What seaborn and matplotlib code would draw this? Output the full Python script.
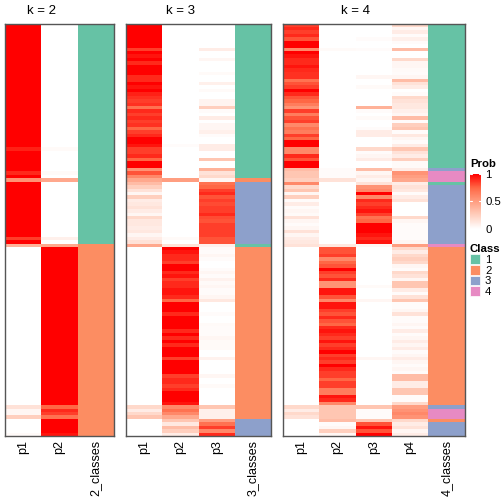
import numpy as np
import pandas as pd
import matplotlib
matplotlib.use("Agg")
import matplotlib.pyplot as plt
from matplotlib.colors import LinearSegmentedColormap, ListedColormap
from matplotlib.patches import Patch
import seaborn as sns

# --- membership probabilities, one value per sample (rows top to bottom) ---
k2_p1 = [1, 1, 1, 1, 1, 1, 1, 1, 1, 1, 1, 1, 1, 1, 1, 1, 1, 1, 1, 1,
         1, 1, 1, 1, 1, 1, 1, 1, 1, 1, 1, 1, 1, 1, 1, 1, 0.92, 1, 1, 1,
         1, 1, 1, 0.9, 1, 0.55, 1, 1, 1, 1, 1, 1, 1, 1, 1, 1, 1, 1, 1, 1,
         1, 1, 0.85, 1, 0.4, 0, 0, 0, 0, 0, 0, 0, 0, 0, 0, 0, 0, 0, 0, 0,
         0, 0, 0, 0, 0, 0, 0, 0, 0, 0, 0, 0, 0, 0, 0, 0, 0, 0, 0, 0,
         0, 0, 0, 0, 0, 0, 0, 0, 0, 0, 0, 0.15, 0.05, 0.05, 0.25, 0, 0, 0, 0, 0.03]
k2_p2 = [0, 0, 0, 0, 0, 0, 0, 0, 0, 0, 0, 0, 0, 0, 0, 0, 0, 0, 0, 0,
         0, 0, 0, 0, 0, 0, 0, 0, 0, 0, 0, 0, 0, 0, 0, 0, 0.03, 0, 0, 0,
         0, 0, 0, 0.03, 0, 0.45, 0, 0, 0, 0, 0, 0, 0, 0, 0, 0, 0, 0, 0, 0,
         0, 0, 0.08, 0, 0.45, 1, 1, 1, 1, 1, 1, 1, 1, 1, 1, 1, 1, 1, 1, 1,
         1, 1, 1, 1, 1, 1, 1, 1, 1, 1, 1, 1, 1, 1, 1, 1, 1, 1, 1, 1,
         1, 1, 1, 1, 1, 1, 1, 1, 1, 1, 1, 0.75, 0.9, 0.85, 0.7, 1, 1, 1, 1, 0.95]

k3_p1 = [1, 1, 1, 1, 1, 1, 1, 0.85, 1, 0.95, 1, 0.9, 1, 1, 1, 0.9, 0.9, 1, 0.95, 1,
         0.92, 0.88, 0.85, 0.88, 0.7, 0.9, 0.85, 0.9, 0.85, 0.88, 0.75, 0.85, 0.9, 1, 1, 0.95, 0.85, 0.85, 0.9, 0.75,
         1, 1, 0.55, 0.8, 0.6, 0.45, 0.35, 0.25, 0.15, 0.05, 0.25, 0.1, 0.12, 0.15, 0.1, 0.05, 0.2, 0.12, 0.12, 0.1,
         0.12, 0.05, 0.1, 0.15, 0.45, 0, 0, 0, 0, 0, 0, 0, 0, 0, 0, 0, 0, 0, 0, 0,
         0, 0, 0, 0, 0, 0, 0, 0, 0, 0, 0, 0, 0, 0, 0, 0, 0, 0, 0, 0,
         0, 0, 0, 0, 0, 0, 0, 0, 0, 0, 0, 0.2, 0.1, 0.2, 0.3, 0, 0, 0, 0, 0]
k3_p2 = [0, 0, 0, 0, 0, 0, 0, 0, 0, 0, 0, 0, 0, 0, 0, 0, 0, 0, 0, 0,
         0, 0, 0, 0, 0, 0, 0, 0, 0, 0, 0, 0, 0, 0, 0, 0.02, 0, 0, 0, 0,
         0, 0, 0, 0, 0, 0.5, 0, 0, 0, 0, 0, 0, 0, 0, 0, 0, 0, 0, 0, 0,
         0, 0, 0.03, 0, 0.15, 1, 0.95, 0.9, 0.9, 0.85, 1, 1, 0.9, 0.95, 0.85, 0.9, 0.9, 0.95, 0.95, 0.9,
         0.75, 1, 1, 1, 0.9, 1, 1, 1, 1, 0.9, 1, 0.9, 1, 0.9, 1, 1, 1, 0.85, 1, 1,
         1, 1, 0.85, 0.9, 0.9, 0.85, 0.9, 1, 1, 1, 0.95, 0.6, 0.7, 0.6, 0.45, 0.3, 0.12, 0.35, 0.25, 0.1]
k3_p3 = [0, 0, 0, 0, 0, 0, 0, 0.1, 0, 0, 0.05, 0, 0, 0, 0.03, 0, 0, 0.08, 0, 0.03,
         0, 0, 0.06, 0.06, 0.25, 0.02, 0, 0.1, 0, 0.05, 0.05, 0.08, 0.02, 0, 0, 0.1, 0.1, 0, 0, 0.3,
         0, 0, 0.4, 0.15, 0.2, 0.05, 0.7, 0.75, 0.85, 0.9, 0.8, 0.85, 0.82, 0.85, 0.85, 0.9, 0.82, 0.8, 0.85, 0.85,
         0.85, 0.85, 0.8, 0.8, 0.08, 0.03, 0.02, 0.05, 0.02, 0, 0, 0.02, 0.05, 0.02, 0.07, 0.03, 0.05, 0.02, 0.02, 0.05,
         0.12, 0, 0, 0, 0.02, 0, 0, 0.03, 0.02, 0.02, 0.02, 0.05, 0.03, 0.03, 0.03, 0, 0, 0.07, 0, 0,
         0, 0, 0.05, 0, 0, 0.03, 0, 0, 0, 0, 0, 0.3, 0.08, 0.08, 0.08, 0.5, 0.7, 0.85, 0.6, 0.9]

k4_p1 = [0.85, 0.9, 0.85, 0.9, 0.8, 1, 1, 0.6, 1, 0.95, 0.9, 0.9, 0.95, 0.9, 0.88, 0.88, 0.7, 0.8, 0.85, 1,
         0.9, 0.8, 0.75, 0.65, 0.55, 0.85, 0.65, 0.8, 0.85, 0.6, 0.7, 0.65, 0.85, 0.75, 1, 1, 0.6, 0.6, 0.9, 0.8,
         1, 1, 0.35, 0.3, 0.3, 0.25, 0.6, 0.2, 0.3, 0.05, 0.25, 0.02, 0.1, 0.02, 0.05, 0.03, 0.15, 0.05, 0.02, 0.05,
         0.15, 0.05, 0.1, 0.12, 0.15, 0, 0, 0, 0, 0, 0, 0, 0, 0, 0, 0, 0, 0, 0, 0,
         0, 0, 0, 0, 0, 0, 0, 0, 0, 0, 0, 0, 0, 0, 0, 0, 0, 0, 0, 0,
         0, 0, 0, 0, 0, 0, 0, 0, 0, 0, 0, 0.2, 0.1, 0.2, 0.15, 0, 0, 0, 0, 0]
k4_p2 = [0, 0, 0, 0, 0, 0, 0, 0.03, 0, 0, 0, 0, 0, 0, 0, 0, 0, 0, 0, 0,
         0, 0, 0, 0, 0, 0, 0, 0, 0, 0, 0, 0, 0, 0, 0, 0, 0, 0, 0, 0,
         0, 0, 0.02, 0.02, 0.02, 0.15, 0, 0, 0, 0, 0, 0, 0, 0, 0, 0, 0, 0, 0, 0,
         0, 0, 0, 0, 0.12, 0.8, 0.8, 0.85, 0.6, 0.75, 0.8, 1, 0.85, 0.8, 0.9, 0.55, 0.55, 0.95, 0.95, 0.8,
         0.6, 0.95, 0.95, 0.85, 0.8, 0.9, 0.8, 0.75, 0.9, 0.95, 0.9, 0.85, 0.95, 0.85, 0.9, 1, 0.85, 0.9, 0.85, 1,
         0.9, 0.85, 0.85, 0.75, 0.85, 0.85, 0.65, 0.65, 0.95, 0.9, 0.6, 0.3, 0.3, 0.3, 0.3, 0.35, 0.02, 0.05, 0.25, 0.05]
k4_p3 = [0, 0, 0, 0, 0.02, 0, 0, 0.02, 0, 0, 0, 0, 0, 0, 0, 0.05, 0, 0, 0.03, 0,
         0, 0, 0, 0, 0.4, 0.02, 0, 0.03, 0, 0, 0.02, 0.1, 0.1, 0, 0, 0, 0.2, 0.02, 0.05, 0.1,
         0, 0, 0.35, 0.05, 0.1, 0.05, 0.15, 0.55, 0.6, 1, 0.6, 0.9, 0.85, 0.9, 0.95, 0.85, 0.7, 0.75, 1, 1,
         1, 0.95, 0.9, 0.95, 0.05, 0, 0, 0, 0, 0, 0, 0, 0, 0, 0, 0, 0.03, 0, 0, 0,
         0.05, 0, 0, 0, 0, 0, 0, 0, 0, 0, 0, 0, 0, 0, 0, 0, 0, 0.05, 0, 0,
         0, 0, 0, 0, 0, 0, 0, 0, 0, 0, 0, 0.3, 0.02, 0.02, 0.02, 0.3, 0.8, 0.95, 0.8, 1]
k4_p4 = [0.2, 0.05, 0.1, 0.02, 0.08, 0.02, 0, 0.35, 0, 0, 0.2, 0.05, 0.05, 0.03, 0.02, 0.05, 0.35, 0.15, 0.1, 0,
         0.02, 0.2, 0.15, 0.12, 0.12, 0.08, 0.05, 0.35, 0.02, 0.25, 0.3, 0.02, 0.12, 0.05, 0.02, 0.1, 0.3, 0.15, 0.1, 0.25,
         0.03, 0.03, 0.1, 0.55, 0.5, 0.45, 0.1, 0.15, 0.12, 0.02, 0.1, 0.15, 0, 0, 0, 0, 0.2, 0.05, 0.02, 0.02,
         0.02, 0.02, 0.02, 0.05, 0.5, 0.2, 0.1, 0.2, 0.25, 0.2, 0.05, 0.02, 0.2, 0.15, 0.05, 0.3, 0.3, 0.1, 0.02, 0.15,
         0.3, 0.02, 0.02, 0.05, 0.15, 0.02, 0.02, 0.05, 0.02, 0.1, 0.02, 0.05, 0.1, 0.05, 0.1, 0.02, 0.05, 0.1, 0.05, 0.02,
         0.05, 0.02, 0.35, 0.35, 0.1, 0.1, 0.3, 0.3, 0.02, 0.02, 0.2, 0.5, 0.55, 0.6, 0.55, 0.2, 0.1, 0.15, 0.05, 0.1]

# --- predicted classes as (class, number of consecutive samples) ---
k2_class_runs = [(1, 64), (2, 56)]
k3_class_runs = [(1, 45), (2, 1), (3, 18), (1, 1), (2, 50), (3, 5)]
k4_class_runs = [(1, 42), (3, 1), (4, 3), (1, 1), (3, 17), (4, 1), (2, 46),
                 (3, 1), (4, 3), (2, 1), (3, 4)]

class_colors = ["#66C2A5", "#FC8D62", "#8DA0CB", "#E78AC3"]
class_names = ["1", "2", "3", "4"]


def expand(runs):
    return np.repeat([c for c, n in runs], [n for c, n in runs])


sns.set_theme(style="white")
plt.rcParams['font.family'] = ['Liberation Sans', 'DejaVu Sans']
plt.rcParams['text.color'] = 'black'
plt.rcParams['xtick.color'] = 'black'
plt.rcParams['ytick.color'] = 'black'

W = H = 504
fig = plt.figure(figsize=(5.04, 5.04), dpi=100)


def px_axes(x0, y0, x1, y1):
    return fig.add_axes([x0 / W, 1 - y1 / H, (x1 - x0) / W, (y1 - y0) / H])


prob_cmap = LinearSegmentedColormap.from_list(
    "prob", ["#FFFFFF", "#FFCFBE", "#FF9E81", "#FF6846", "#FF0000"])
class_cmap = ListedColormap(class_colors)

panels = [
    (2, [k2_p1, k2_p2], k2_class_runs, 5),
    (3, [k3_p1, k3_p2, k3_p3], k3_class_runs, 126),
    (4, [k4_p1, k4_p2, k4_p3, k4_p4], k4_class_runs, 283),
]
col_w = 36.3
top, bottom = 23.5, 436

for k, probs, runs, x0 in panels:
    df = pd.DataFrame({f"p{i + 1}": p for i, p in enumerate(probs)})
    x_mid = x0 + k * col_w
    ax_p = px_axes(x0, top, x_mid, bottom)
    sns.heatmap(df, ax=ax_p, cmap=prob_cmap, vmin=0, vmax=1, cbar=False,
                xticklabels=True, yticklabels=False)
    ax_c = px_axes(x_mid, top, x_mid + col_w, bottom)
    cdf = pd.DataFrame({f"{k}_classes": expand(runs)})
    sns.heatmap(cdf, ax=ax_c, cmap=class_cmap, vmin=0.5, vmax=4.5, cbar=False,
                xticklabels=True, yticklabels=False)
    for ax in (ax_p, ax_c):
        ax.tick_params(axis='x', length=0, pad=3, labelsize=9, labelrotation=90)
        ax.set_ylabel("")
        ax.set_xlabel("")
    ax_p.set_title(f"k = {k}", fontsize=9.5, pad=7)
    frame = px_axes(x0, top, x_mid + col_w, bottom)
    frame.patch.set_alpha(0)
    frame.set_xticks([])
    frame.set_yticks([])
    for s in frame.spines.values():
        s.set_visible(True)
        s.set_color('#555555')
        s.set_linewidth(1)

# --- Prob colour bar ---
cax = px_axes(470, 174, 481, 229)
cbar = fig.colorbar(ax_p.collections[0], cax=cax, ticks=[0, 0.5, 1])
cbar.outline.set_visible(False)
cax.set_yticklabels(["0", "0.5", "1"])
cax.tick_params(length=0, pad=3, labelsize=8.2)
for v in (0.5, 1):
    cax.axhline(v, xmin=0, xmax=0.2, color='white', lw=0.8)
    cax.axhline(v, xmin=0.8, xmax=1, color='white', lw=0.8)
cax.set_title("Prob", loc="left", fontsize=8.2, fontweight="bold", pad=5)

# --- Class legend ---
handles = [Patch(facecolor=c, edgecolor='white', linewidth=0.5, label=n)
           for c, n in zip(class_colors, class_names)]
fig.legend(handles=handles, title="Class", loc="upper left",
           bbox_to_anchor=(469.5 / W, 1 - 244 / H), frameon=False,
           fontsize=8.2, title_fontproperties={'weight': 'bold', 'size': 8.2},
           alignment='left', handlelength=0.95, handleheight=0.95,
           handletextpad=0.4, labelspacing=0.0, borderpad=0, borderaxespad=0)

fig.savefig("out.png", dpi=100)
